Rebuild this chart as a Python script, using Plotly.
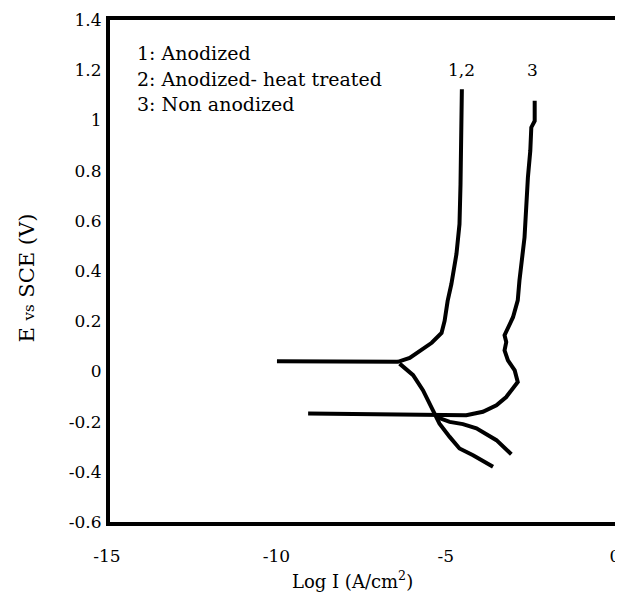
import plotly.graph_objects as go

# Curve 1,2 (anodized / anodized-heat treated): anodic branch incl. horizontal start
c12_anodic_x = [-10.07, -6.50, -6.15, -5.77, -5.50, -5.21, -5.12, -5.03, -4.92, -4.77, -4.68, -4.65, -4.63, -4.61]
c12_anodic_v = [0.040, 0.038, 0.054, 0.090, 0.114, 0.153, 0.201, 0.281, 0.348, 0.468, 0.587, 0.746, 0.945, 1.124]
# Curve 1,2 cathodic branch
c12_cath_x = [-6.45, -6.05, -5.76, -5.51, -5.41, -5.27, -4.97, -4.68, -4.28, -3.69]
c12_cath_v = [0.031, -0.015, -0.075, -0.142, -0.175, -0.208, -0.261, -0.307, -0.334, -0.380]

# Curve 3 (non anodized): horizontal start and anodic branch
c3_anodic_x = [-9.15, -5.46, -4.48, -3.99, -3.59, -3.30, -3.05, -2.96, -3.05, -3.25, -3.35, -3.30, -3.35,
               -3.25, -3.10, -2.96, -2.91, -2.76, -2.71, -2.66, -2.59, -2.56, -2.46, -2.46]
c3_anodic_v = [-0.168, -0.175, -0.175, -0.161, -0.135, -0.102, -0.062, -0.042, 0.004, 0.044, 0.084, 0.117, 0.144,
               0.170, 0.216, 0.283, 0.362, 0.534, 0.667, 0.773, 0.879, 0.972, 0.998, 1.078]
# Curve 3 cathodic branch
c3_cath_x = [-5.37, -4.97, -4.58, -4.18, -3.59, -3.15]
c3_cath_v = [-0.181, -0.201, -0.210, -0.227, -0.274, -0.330]

x_tickvals = [-15, -10, -5, 0]
x_ticktext = ["-15", "-10", "-5", "0"]
y_tickvals = [1.4, 1.2, 1.0, 0.8, 0.6, 0.4, 0.2, 0.0, -0.2, -0.4, -0.6]
y_ticktext = ["1.4", "1.2", "1", "0.8", "0.6", "0.4", "0.2", "0", "-0.2", "-0.4", "-0.6"]

legend_lines = ["1: Anodized", "2: Anodized- heat treated", "3: Non anodized"]
legend_v = [1.269, 1.165, 1.066]

FONT = "DejaVu Serif"
line = dict(color="black", width=4)

fig = go.Figure()
for xs, vs in [(c12_anodic_x, c12_anodic_v), (c12_cath_x, c12_cath_v),
               (c3_anodic_x, c3_anodic_v), (c3_cath_x, c3_cath_v)]:
    fig.add_trace(go.Scatter(x=xs, y=vs, mode="lines", line=line, showlegend=False,
                             hoverinfo="skip"))

annotations = []
for txt, v in zip(legend_lines, legend_v):
    annotations.append(dict(x=-14.25, y=v, xref="x", yref="y", text=txt, showarrow=False,
                            xanchor="left", yanchor="middle", font=dict(family=FONT, size=19, color="black")))
annotations.append(dict(x=-4.61, y=1.20, xref="x", yref="y", text="1,2", showarrow=False,
                        font=dict(family=FONT, size=17, color="black")))
annotations.append(dict(x=-2.52, y=1.20, xref="x", yref="y", text="3", showarrow=False,
                        font=dict(family=FONT, size=17, color="black")))
annotations.append(dict(x=0, y=0.485, xref="paper", yref="paper", xshift=-83,
                        text="E <span style='font-size:15px'>vs</span> SCE (V)",
                        textangle=-90, showarrow=False, xanchor="center", yanchor="middle",
                        font=dict(family=FONT, size=21, color="black")))
annotations.append(dict(x=0.478, y=0, xref="paper", yref="paper", yshift=-58,
                        text="Log I (A/cm<sup>2</sup>)", showarrow=False, xanchor="center",
                        yanchor="middle", font=dict(family=FONT, size=18, color="black")))

# the page body adds an 8px margin, so the figure is offset by 8px in the window
fig.update_layout(
    width=615, height=594,
    margin=dict(l=102, r=5, t=12, b=80),
    paper_bgcolor="white", plot_bgcolor="white",
    annotations=annotations,
    xaxis=dict(range=[-15, 0], tickvals=x_tickvals, ticktext=x_ticktext, showgrid=False,
               zeroline=False, showline=True, mirror=True, linecolor="black", linewidth=4,
               ticks="", ticklabelstandoff=16, ticklabelshift=-3, automargin=False,
               tickfont=dict(family=FONT, size=17, color="black")),
    yaxis=dict(range=[-0.6, 1.4], tickvals=y_tickvals, ticktext=y_ticktext, showgrid=False,
               zeroline=False, showline=True, mirror=True, linecolor="black", linewidth=4,
               ticks="", ticklabelstandoff=1, automargin=False,
               tickfont=dict(family=FONT, size=17, color="black")),
)

fig.write_html("out.html")
